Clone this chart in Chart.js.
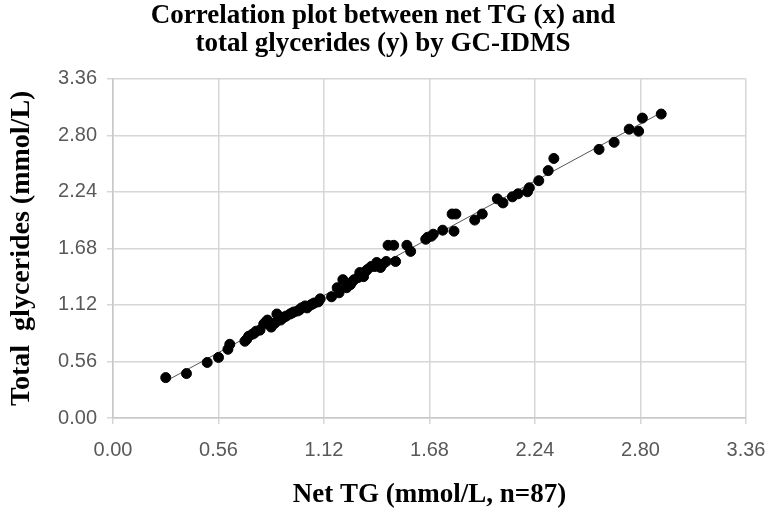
<!DOCTYPE html>
<html>
<head>
<meta charset="utf-8">
<script src="https://cdn.jsdelivr.net/npm/chart.js@4.4.1/dist/chart.umd.min.js"></script>
<style>
  html,body{margin:0;padding:0;background:#fff;}
</style>
</head>
<body>
<canvas id="myChart" width="766" height="512"></canvas>
<script>
// net TG (x) vs total glycerides (y), mmol/L, n=87
const netTG = [0.28,0.39,0.50,0.56,0.61,0.62,0.70,0.72,0.74,0.76,0.78,0.81,0.82,0.84,0.86,0.87,0.89,0.90,0.92,0.94,
  0.96,0.98,1.00,1.03,1.05,1.07,1.09,1.10,1.16,1.19,1.20,1.22,1.24,1.26,1.27,1.30,1.31,1.33,1.35,1.37,
  1.40,1.42,1.43,1.45,1.50,1.46,1.49,1.56,1.58,1.66,1.67,1.70,1.75,1.80,1.82,1.81,1.92,1.96,2.04,2.07,
  2.12,2.15,2.20,2.21,2.26,2.31,2.34,2.58,2.66,2.74,2.79,2.81,2.91,
  0.71,0.75,0.80,0.85,0.91,0.95,0.99,1.02,1.06,1.28,1.34,1.39,1.41,1.69];
const totalGly = [0.40,0.44,0.55,0.60,0.68,0.73,0.76,0.81,0.83,0.86,0.87,0.95,0.97,0.90,0.94,1.03,0.97,0.99,1.01,1.03,
  1.05,1.06,1.09,1.09,1.12,1.14,1.15,1.18,1.20,1.29,1.24,1.37,1.29,1.32,1.35,1.39,1.44,1.40,1.47,1.50,
  1.54,1.49,1.52,1.55,1.55,1.71,1.71,1.71,1.65,1.77,1.79,1.82,1.86,2.02,2.02,1.85,1.96,2.02,2.17,2.13,
  2.19,2.22,2.24,2.28,2.35,2.45,2.57,2.66,2.73,2.86,2.84,2.97,3.01,
  0.78,0.84,0.93,0.93,1.00,1.04,1.07,1.11,1.13,1.37,1.45,1.50,1.52,1.80];
const axisTicks = [0.00,0.56,1.12,1.68,2.24,2.80,3.36];

const titleLines = ['Correlation plot between net TG (x) and','total glycerides (y) by GC-IDMS'];
const xTitle = 'Net TG (mmol/L, n=87)';
const yTitle = 'Total  glycerides (mmol/L)';

// points
const pts = netTG.map((x,i)=>({x:x, y:totalGly[i]}));

// linear trend line (least squares, like excel)
const n = netTG.length;
let sx=0, sy=0, sxx=0, sxy=0;
for(let i=0;i<n;i++){ sx+=netTG[i]; sy+=totalGly[i]; sxx+=netTG[i]*netTG[i]; sxy+=netTG[i]*totalGly[i]; }
const slope = (n*sxy - sx*sy)/(n*sxx - sx*sx);
const icpt = (sy - slope*sx)/n;
const xmin = Math.min(...netTG), xmax = Math.max(...netTG);
const trend = [{x:xmin, y:icpt+slope*xmin},{x:xmax, y:icpt+slope*xmax}];

const tickFont = {family:"'Liberation Sans Narrow', 'Liberation Sans', Arial, sans-serif", size:20};
const serifBold = (s,lh)=>({family:"'Liberation Serif', 'Times New Roman', serif", size:s, weight:'bold', lineHeight:lh||1.2});
const gridOpts = {color:'#d6d6d6', lineWidth:1.5, tickLength:6, drawTicks:true};

const setTicks = (scale)=>{ scale.ticks = axisTicks.map(v=>({value:v})); };

new Chart(document.getElementById('myChart'), {
  type:'scatter',
  data:{
    datasets:[
      {
        type:'line',
        data:trend,
        borderColor:'#555',
        borderWidth:1,
        pointRadius:0,
        fill:false,
        order:2
      },
      {
        data:pts,
        backgroundColor:'#000',
        borderColor:'#000',
        pointRadius:5,
        pointHoverRadius:5,
        order:1
      }
    ]
  },
  options:{
    responsive:false,
    animation:false,
    layout:{padding:{left:0, right:0, top:0, bottom:0}},
    plugins:{
      legend:{display:false},
      tooltip:{enabled:false},
      title:{
        display:true,
        text:titleLines,
        color:'#000',
        font:serifBold(27,1.05),
        padding:{top:2, bottom:20}
      }
    },
    scales:{
      x:{
        type:'linear',
        min:0, max:3.36,
        afterBuildTicks:setTicks,
        afterFit:(s)=>{ s.height = 94; s.paddingLeft = 0; s.paddingRight = 20; },
        grid:gridOpts,
        border:{color:'#c8c8c8', width:1.5},
        ticks:{font:tickFont, color:'#595959', padding:14, maxRotation:0,
          callback:(v)=>Number(v).toFixed(2)},
        title:{display:true, text:xTitle, color:'#000', font:serifBold(27), padding:{top:0, bottom:1}}
      },
      y:{
        type:'linear',
        min:0, max:3.36,
        afterBuildTicks:setTicks,
        afterFit:(s)=>{ s.width = 113; },
        grid:gridOpts,
        border:{color:'#c8c8c8', width:1.5},
        ticks:{font:tickFont, color:'#595959', padding:10,
          callback:(v)=>Number(v).toFixed(2)},
        title:{display:true, text:yTitle, color:'#000', font:serifBold(28), padding:{top:5, bottom:0}}
      }
    }
  }
});
</script>
</body>
</html>
